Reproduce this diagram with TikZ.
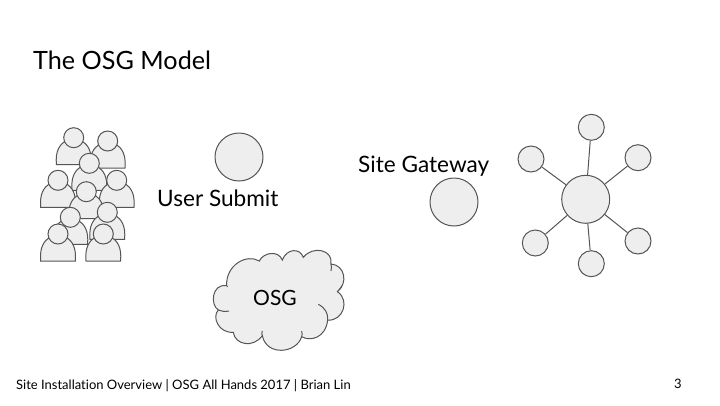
\documentclass[tikz,border=0pt]{standalone}
\usepackage{fontspec}
\setmainfont{Lato}[Ligatures=NoCommon]

\begin{document}
\begin{tikzpicture}[
x=1pt,
y=-1pt,
dot/.style={
circle,
draw=linegray,
fill=shapegray,
line width=1 pt,
inner sep=0 pt,
},
hostnode/.style={
dot,
minimum size=48 pt,
},
leafnode/.style={
dot,
minimum size=26 pt,
},
label/.style={
text=black,
inner sep=0 pt,
font=\fontsize{22.6}{25}\selectfont,
anchor=base west,
},
person/.pic={
\path[draw=linegray, fill=shapegray, line width=1 pt]
(-17.3,27) -- (17.3,27)
.. controls (18.5,13) and (14,7) .. (8,3)
-- (-8,3)
.. controls (-14,7) and (-18.5,13) .. (-17.3,27)
-- cycle;
\path[draw=linegray, fill=shapegray, line width=1 pt]
(0,0) circle [radius=10];
},
]
\definecolor{linegray}{HTML}{555555}
\definecolor{shapegray}{HTML}{EEEEEE}

\useasboundingbox[fill=white] (0,0) rectangle (720,405);

% title and footer
\node[label, font=\fontsize{25.2}{30}\selectfont] (title) at (33,69) {The OSG Model};
\node[label, font=\fontsize{13}{15}\selectfont] (footer) at (16,389) {Site Installation Overview | OSG All Hands 2017 | Brian Lin};
\node[label, font=\fontsize{13}{15}\selectfont] (page) at (674,388) {3};

% users
\foreach \px/\py in {
73.7/137.7, 107.7/141, 89.3/163.3, 58/180.3, 116.7/180.3,
86.3/191.7, 70.3/217.3, 107.3/212.3, 58/234, 103.3/234}
{
\pic at (\px,\py) {person};
}

% hosts
\node[hostnode] (submit) at (239,157) {};
\node[hostnode] (gateway) at (454,202) {};

\node[label] (submitlabel) at (157,206) {User Submit};
\node[label] (gatewaylabel) at (358,172) {Site Gateway};

% cloud
\begin{scope}[shift={(205,245)}, x=0.3333pt, y=-0.3333pt]
\draw[draw=linegray, fill=shapegray, line width=1 pt]
(65,122) .. controls (62,60) and (125,25) .. (163,48)
.. controls (175,22) and (220,15) .. (232,45)
.. controls (245,10) and (285,8) .. (295,37)
.. controls (325,0) and (385,15) .. (378,57)
.. controls (420,60) and (430,115) .. (397,140)
.. controls (436,165) and (414,230) .. (368,225)
.. controls (362,280) and (315,290) .. (290,275)
.. controls (275,325) and (185,335) .. (172,272)
.. controls (145,310) and (90,300) .. (85,262)
.. controls (40,265) and (20,215) .. (40,195)
.. controls (15,180) and (20,115) .. (65,122)
-- cycle;
\draw[draw=linegray, line width=1 pt]
(40,195) .. controls (50,200) and (60,200) .. (72,198)
(65,122) -- (68,125)
(378,57) .. controls (380,65) and (380,70) .. (378,78)
(397,140) .. controls (403,135) and (407,130) .. (411,122)
(368,225) .. controls (370,205) and (360,188) .. (340,178)
(290,275) .. controls (292,270) and (292,265) .. (290,258)
(172,272) .. controls (170,266) and (170,262) .. (172,258)
;
\end{scope}
\node[label, anchor=center, font=\fontsize{21}{25}\selectfont] (osg) at (275,298) {OSG};

% site nodes
\node[hostnode] (hub) at (585.7,199.3) {};
\node[leafnode] (s1) at (591.3,127.3) {};
\node[leafnode] (s2) at (531,159) {};
\node[leafnode] (s3) at (638,157.7) {};
\node[leafnode] (s4) at (535.3,243) {};
\node[leafnode] (s5) at (638,241) {};
\node[leafnode] (s6) at (591.3,263.7) {};

\draw[draw=linegray, line width=1 pt]
(hub) -- (s1)
(hub) -- (s2)
(hub) -- (s3)
(hub) -- (s4)
(hub) -- (s5)
(hub) -- (s6)
;

\end{tikzpicture}
\end{document}
